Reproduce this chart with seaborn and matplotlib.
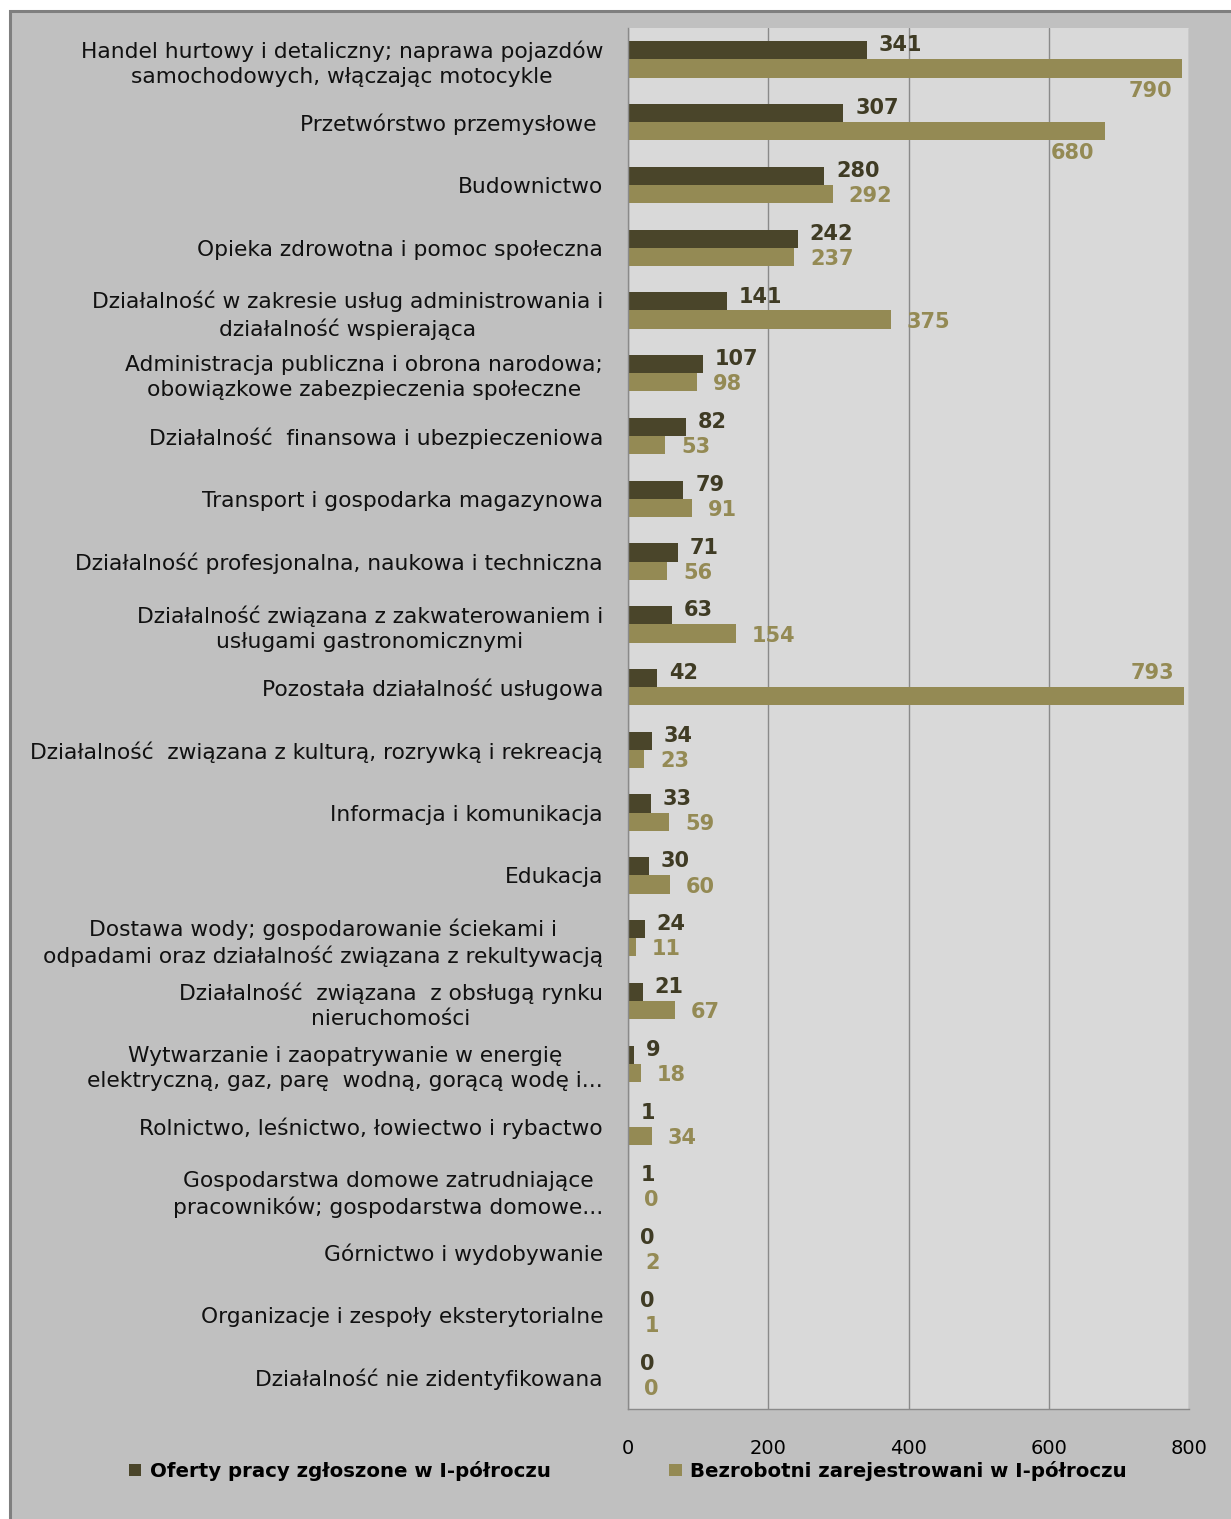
import pandas as pd
import matplotlib
matplotlib.use("Agg")
import matplotlib.pyplot as plt
from matplotlib.patches import Rectangle, Patch
from matplotlib.ticker import FixedLocator
import seaborn as sns

# dane z wykresu
categories = [
    "Handel hurtowy i detaliczny; naprawa pojazdów\nsamochodowych, włączając motocykle",
    "Przetwórstwo przemysłowe ",
    "Budownictwo",
    "Opieka zdrowotna i pomoc społeczna",
    "Działalność w zakresie usług administrowania i\ndziałalność wspierająca",
    "Administracja publiczna i obrona narodowa;\nobowiązkowe zabezpieczenia społeczne",
    "Działalność  finansowa i ubezpieczeniowa",
    "Transport i gospodarka magazynowa",
    "Działalność profesjonalna, naukowa i techniczna",
    "Działalność związana z zakwaterowaniem i\nusługami gastronomicznymi",
    "Pozostała działalność usługowa",
    "Działalność  związana z kulturą, rozrywką i rekreacją",
    "Informacja i komunikacja",
    "Edukacja",
    "Dostawa wody; gospodarowanie ściekami i\nodpadami oraz działalność związana z rekultywacją",
    "Działalność  związana  z obsługą rynku\nnieruchomości",
    "Wytwarzanie i zaopatrywanie w energię\nelektryczną, gaz, parę  wodną, gorącą wodę i...",
    "Rolnictwo, leśnictwo, łowiectwo i rybactwo",
    "Gospodarstwa domowe zatrudniające\npracowników; gospodarstwa domowe...",
    "Górnictwo i wydobywanie",
    "Organizacje i zespoły eksterytorialne",
    "Działalność nie zidentyfikowana",
]
oferty = [341, 307, 280, 242, 141, 107, 82, 79, 71, 63, 42, 34, 33, 30, 24, 21, 9, 1, 1, 0, 0, 0]
bezrobotni = [790, 680, 292, 237, 375, 98, 53, 91, 56, 154, 793, 23, 59, 60, 11, 67, 18, 34, 0, 2, 1, 0]
series_names = ["Oferty pracy zgłoszone w I-półroczu", "Bezrobotni zarejestrowani w I-półroczu"]
x_ticks = [0, 200, 400, 600, 800]

DARK = "#4a452a"
LIGHT = "#948a54"
DARK_TXT = "#3f3b24"
GRID = "#8a8a8a"

df = pd.concat([
    pd.DataFrame({"kat": categories, "seria": series_names[0], "wartosc": oferty}),
    pd.DataFrame({"kat": categories, "seria": series_names[1], "wartosc": bezrobotni}),
])

sns.set_style("white")
plt.rcParams["font.family"] = ["DejaVu Sans"]

W, H = 1231, 1519
fig = plt.figure(figsize=(W / 100, H / 100), dpi=100)
fig.patch.set_facecolor("white")

# tło wykresu z ramką (góra i lewa strona)
fig.add_artist(Rectangle((9.5 / W, -0.05), 1.1, 1 - 10.5 / H + 0.05,
                         transform=fig.transFigure, facecolor="#c0c0c0",
                         edgecolor="#7f7f7f", linewidth=2.2, zorder=0))

ax = fig.add_axes([628 / W, 1 - 1409 / H, (1189 - 628) / W, (1409 - 28) / H])
ax.set_facecolor("#d9d9d9")

sns.barplot(data=df, y="kat", x="wartosc", hue="seria", orient="h",
            palette=[DARK, LIGHT], saturation=1, width=0.58, legend=False,
            edgecolor="none", linewidth=0, ax=ax)

ax.set_xlim(0, 800)
ax.set_ylim(len(categories) - 0.5, -0.5)
ax.set_xlabel("")
ax.set_ylabel("")
ax.set_axisbelow(True)
ax.xaxis.set_major_locator(FixedLocator(x_ticks))
ax.grid(axis="x", color=GRID, linewidth=1.0)
ax.grid(axis="y", visible=False)

for s in ["top", "right"]:
    ax.spines[s].set_visible(False)
for s in ["left", "bottom"]:
    ax.spines[s].set_color(GRID)
    ax.spines[s].set_linewidth(1.0)

ax.tick_params(axis="x", direction="out", length=4.5, width=1, color=GRID,
               pad=17, labelsize=14, labelcolor="black")
ax.tick_params(axis="y", which="major", length=0, pad=18, labelsize=15.7, labelcolor="#111111")
ax.yaxis.set_minor_locator(FixedLocator([i - 0.5 for i in range(len(categories) + 1)]))
ax.tick_params(axis="y", which="minor", direction="out", length=6.5, width=1, color=GRID)
for lab in ax.get_yticklabels():
    lab.set_multialignment("center")
    lab.set_linespacing(1.32)

# etykiety wartości
dark_bars = ax.containers[0]
light_bars = ax.containers[1]
for i, (pd_, pl_) in enumerate(zip(dark_bars, light_bars)):
    v_d = oferty[i]
    v_l = bezrobotni[i]
    yd = pd_.get_y() + pd_.get_height() / 2
    yl = pl_.get_y() + pl_.get_height() / 2
    ax.annotate(str(v_d), xy=(v_d, yd), xytext=(8.5, 3.5), textcoords="offset points",
                ha="left", va="center", fontsize=15, fontweight="bold", color=DARK_TXT)
    if v_l > 600:
        dy = 16.5 if v_d < 100 else -16
        ax.annotate(str(v_l), xy=(v_l, yl), xytext=(-23, dy), textcoords="offset points",
                    ha="center", va="center", fontsize=15, fontweight="bold", color=LIGHT)
    else:
        ax.annotate(str(v_l), xy=(v_l, yl), xytext=(11.5, -1.5), textcoords="offset points",
                    ha="left", va="center", fontsize=15, fontweight="bold", color=LIGHT)

handles = [Patch(facecolor=DARK, edgecolor="none"), Patch(facecolor=LIGHT, edgecolor="none")]
leg = fig.legend(handles, series_names, loc="center left",
                 bbox_to_anchor=(129 / W, 1 - 1471 / H), ncol=2, frameon=False,
                 prop={"weight": "bold", "size": 14.2},
                 handlelength=0.62, handleheight=0.62, handletextpad=0.45,
                 columnspacing=6.0, borderpad=0, borderaxespad=0)
for t in leg.get_texts():
    t.set_color("black")

fig.savefig("out.png", dpi=100, facecolor="white")
